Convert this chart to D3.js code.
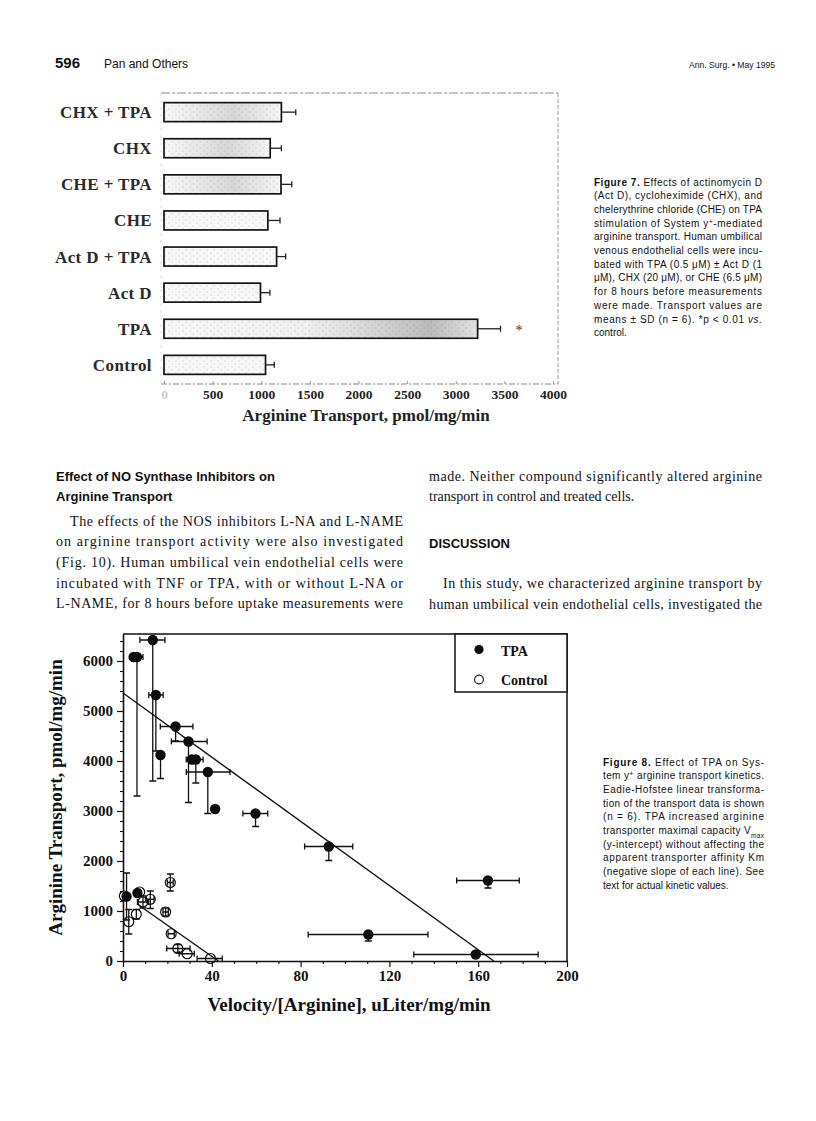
<!DOCTYPE html>
<html lang="en">
<head>
<meta charset="utf-8">
<title>Pan and Others - Ann. Surg. May 1995 - p. 596</title>
<script src="https://d3js.org/d3.v7.min.js"></script>
<style>
  body { margin: 0; background: #fff; }
  svg { display: block; }
</style>
</head>
<body>
<svg id="page" width="816" height="1121"></svg>
<script>

// ---- Figure 7 data (bars, pmol/mg/min) ----
var barCats  = ["CHX + TPA", "CHX", "CHE + TPA", "CHE", "Act D + TPA", "Act D", "TPA", "Control"];
var barMeans = [1207, 1092, 1203, 1068, 1158, 992, 3225, 1044];
var barUpper = [1355, 1207, 1314, 1193, 1251, 1089, 3460, 1134];   // mean + SD
var barTicks = [0, 500, 1000, 1500, 2000, 2500, 3000, 3500, 4000];
var starValue = 3650;

// ---- Figure 8 data (Eadie-Hofstee) ----
var tpaX   = [6.3, 4.8, 13.4, 14.8, 16.9, 23.7, 29.5, 31.0, 32.8, 38.2, 41.5, 59.7, 92.7, 110.5, 158.9, 164.4, 1.6, 6.5];
var tpaY   = [6080, 6080, 6420, 5320, 4120, 4690, 4390, 4030, 4030, 3780, 3040, 2950, 2290, 530, 130, 1610, 1290, 1360];
var tpaXLo = [4.0, 4.8, 7.6, 11.6, 16.9, 16.8, 21.8, 31.0, 28.5, 28.5, 41.5, 54.0, 81.8, 83.4, 131.0, 150.3, 1.6, 5.5];
var tpaXHi = [9.0, 4.8, 18.9, 18.1, 16.9, 31.5, 37.9, 31.0, 36.1, 48.2, 41.5, 65.2, 103.5, 137.4, 187.0, 178.5, 1.6, 8.0];
var tpaYLo = [3300, 6080, 3600, 4200, 3650, 4400, 3170, 4030, 3560, 2950, 3040, 2690, 2010, 400, 130, 1460, 820, 1360];
var tpaYHi = [6080, 6080, 6420, 5320, 4120, 4690, 4390, 4030, 4030, 3780, 3040, 2950, 2290, 530, 130, 1610, 1760, 1360];

var ctlX   = [0.6, 2.6, 6.0, 7.5, 9.0, 12.3, 19.2, 21.3, 21.7, 24.7, 28.9, 39.4];
var ctlY   = [1300, 785, 935, 1380, 1180, 1235, 980, 1570, 545, 250, 145, 50];
var ctlXLo = [0.6, 2.6, 6.0, 7.5, 6.5, 10.5, 18.0, 20.0, 20.3, 19.7, 25.3, 33.4];
var ctlXHi = [0.6, 2.6, 6.0, 7.5, 11.5, 14.0, 20.4, 22.6, 23.1, 30.2, 32.1, 44.7];
var ctlYLo = [1300, 540, 840, 1380, 1060, 1050, 900, 1400, 545, 170, 145, 50];
var ctlYHi = [1300, 1030, 1030, 1380, 1300, 1400, 1060, 1740, 545, 330, 145, 50];

// fitted lines, end points
var tpaFitX = [0, 167],  tpaFitY = [5360, 0];
var ctlFitX = [7, 43],   ctlFitY = [1120, 0];

var xTicks8 = [0, 40, 80, 120, 160, 200];
var yTicks8 = [0, 1000, 2000, 3000, 4000, 5000, 6000];

var SERIF = '"Liberation Serif", "Times New Roman", serif';
var SANS  = '"Liberation Sans", Arial, Helvetica, sans-serif';
var plain = d3.format("d");

var svg = d3.select("#page");
svg.append("rect").attr("width", 816).attr("height", 1121).attr("fill", "#fff");

// ---------- small text helpers ----------
// **bold**, _italic_, ^sup^, ~sub~
function richText(sel, str) {
    var parts = str.split(/(\*\*[^*]+\*\*|_[^_]+_|\^[^^]+\^|~[^~]+~)/);
    parts.forEach(function(s) {
        if (!s) return;
        var t = sel.append("tspan");
        if (s.indexOf("**") == 0) t.attr("font-weight", "bold").text(s.slice(2, -2));
        else if (s[0] == "_") t.attr("font-style", "italic").text(s.slice(1, -1));
        else if (s[0] == "^") t.attr("baseline-shift", "super").attr("font-size", "70%").text(s.slice(1, -1));
        else if (s[0] == "~") t.attr("baseline-shift", "sub").attr("font-size", "65%").text(s.slice(1, -1));
        else t.text(s);
    });
}

// lines of a justified block; opt: x, y, pitch, width, indent, font, size, free (indices not justified)
function textBlock(lines, opt) {
    var g = svg.append("g")
        .attr("font-family", opt.font)
        .attr("font-size", opt.size)
        .attr("font-weight", opt.weight || "normal")
        .attr("fill", "#111");
    lines.forEach(function(str, i) {
        var ind = (i == 0 && opt.indent) ? opt.indent : 0;
        var t = g.append("text").attr("x", opt.x + ind).attr("y", opt.y + i * opt.pitch);
        richText(t, str);
        var free = opt.free || [];
        var natural = t.node().getComputedTextLength();
        var target = opt.width - ind;
        if (free.indexOf(i) < 0 || natural > target) {
            t.attr("textLength", target)
             .attr("lengthAdjust", natural > target ? "spacingAndGlyphs" : "spacing");
        }
    });
    return g;
}

// ---------- page header ----------
svg.append("text").attr("x", 55).attr("y", 68)
    .attr("font-family", SANS).attr("font-weight", "bold").attr("font-size", 15)
    .attr("fill", "#111").text("596");
svg.append("text").attr("x", 104).attr("y", 68)
    .attr("font-family", SANS).attr("font-size", 12).attr("fill", "#111").text("Pan and Others");
svg.append("text").attr("x", 775).attr("y", 68).attr("text-anchor", "end")
    .attr("font-family", SANS).attr("font-size", 9.5).attr("fill", "#111")
    .attr("textLength", 86).attr("lengthAdjust", "spacingAndGlyphs")
    .text("Ann. Surg. \u2022 May 1995");

// ---------- Figure 7: horizontal bars ----------
var defs = svg.append("defs");
var speck = defs.append("pattern").attr("id", "speck")
    .attr("patternUnits", "userSpaceOnUse").attr("width", 7).attr("height", 6);
speck.append("rect").attr("width", 7).attr("height", 6).attr("fill", "#f8f8f8");
speck.append("circle").attr("cx", 1).attr("cy", 1).attr("r", 0.55).attr("fill", "#b4b4b4");
speck.append("circle").attr("cx", 4.5).attr("cy", 4).attr("r", 0.5).attr("fill", "#c6c6c6");
speck.append("path").attr("d", "M2.5,4.5 l1.2,-1.2").attr("stroke", "#cfcfcf").attr("stroke-width", 0.5);

var shade = defs.append("linearGradient").attr("id", "tpaShade");
shade.append("stop").attr("offset", "0").attr("stop-color", "#777").attr("stop-opacity", 0);
shade.append("stop").attr("offset", "0.45").attr("stop-color", "#777").attr("stop-opacity", 0.06);
shade.append("stop").attr("offset", "0.85").attr("stop-color", "#666").attr("stop-opacity", 0.42);
shade.append("stop").attr("offset", "1").attr("stop-color", "#777").attr("stop-opacity", 0.18);

var midShade = defs.append("linearGradient").attr("id", "midShade");
midShade.append("stop").attr("offset", "0").attr("stop-color", "#777").attr("stop-opacity", 0);
midShade.append("stop").attr("offset", "0.6").attr("stop-color", "#777").attr("stop-opacity", 0.25);
midShade.append("stop").attr("offset", "0.9").attr("stop-color", "#777").attr("stop-opacity", 0.08);
midShade.append("stop").attr("offset", "1").attr("stop-color", "#777").attr("stop-opacity", 0);

var xB = d3.scaleLinear().domain([0, 4000]).range([164, 553]);
var yB = d3.scaleBand().domain(barCats).range([93, 384]).paddingInner(0.474).paddingOuter(0.267);

var f7 = svg.append("g");

// scanned frame: grey broken lines
var frame7 = f7.append("g").attr("fill", "none").attr("stroke", "#8a8a8a");
frame7.append("line").attr("x1", 161).attr("x2", 558).attr("y1", 93).attr("y2", 93)
    .attr("stroke-dasharray", "9,2,3,2").attr("stroke-width", 1.1);
frame7.append("line").attr("x1", 558).attr("x2", 558).attr("y1", 93).attr("y2", 384)
    .attr("stroke-dasharray", "4,2").attr("stroke-width", 0.9);
frame7.append("line").attr("x1", 161).attr("x2", 558).attr("y1", 384).attr("y2", 384)
    .attr("stroke-dasharray", "6,2,2,2").attr("stroke-width", 1.1);
frame7.append("line").attr("x1", 161).attr("x2", 161).attr("y1", 93).attr("y2", 384)
    .attr("stroke", "#d6d6d6").attr("stroke-dasharray", "3,4").attr("stroke-width", 0.8);

var barIdx = d3.range(barCats.length);

f7.selectAll("rect.bar").data(barIdx).enter().append("rect")
    .attr("class", "bar")
    .attr("x", xB(0))
    .attr("y", function(i) { return yB(barCats[i]); })
    .attr("width", function(i) { return xB(barMeans[i]) - xB(0); })
    .attr("height", yB.bandwidth())
    .attr("fill", "url(#speck)");

// darker speckle seen in the scan (TPA right half, the first three bars in the middle)
f7.selectAll("rect.shade").data(barIdx.filter(function(i) { return i < 3 || barCats[i] == "TPA"; }))
    .enter().append("rect")
    .attr("class", "shade")
    .attr("x", xB(0))
    .attr("y", function(i) { return yB(barCats[i]) + 1; })
    .attr("width", function(i) { return xB(barMeans[i]) - xB(0); })
    .attr("height", yB.bandwidth() - 2)
    .attr("fill", function(i) { return barCats[i] == "TPA" ? "url(#tpaShade)" : "url(#midShade)"; });

f7.selectAll("rect.outline").data(barIdx).enter().append("rect")
    .attr("class", "outline")
    .attr("x", xB(0))
    .attr("y", function(i) { return yB(barCats[i]); })
    .attr("width", function(i) { return xB(barMeans[i]) - xB(0); })
    .attr("height", yB.bandwidth())
    .attr("fill", "none").attr("stroke", "#141414").attr("stroke-width", 1.7);

// error bars
var err7 = f7.append("g").attr("stroke", "#222").attr("stroke-width", 1.3);
err7.selectAll("line.e").data(barIdx).enter().append("line")
    .attr("x1", function(i) { return xB(barMeans[i]); })
    .attr("x2", function(i) { return xB(barUpper[i]); })
    .attr("y1", function(i) { return yB(barCats[i]) + yB.bandwidth() / 2; })
    .attr("y2", function(i) { return yB(barCats[i]) + yB.bandwidth() / 2; });
err7.selectAll("line.c").data(barIdx).enter().append("line")
    .attr("x1", function(i) { return xB(barUpper[i]); })
    .attr("x2", function(i) { return xB(barUpper[i]); })
    .attr("y1", function(i) { return yB(barCats[i]) + yB.bandwidth() / 2 - 3; })
    .attr("y2", function(i) { return yB(barCats[i]) + yB.bandwidth() / 2 + 3; });

f7.append("text")
    .attr("x", xB(starValue)).attr("y", yB("TPA") + yB.bandwidth() / 2 + 6)
    .attr("text-anchor", "middle").attr("font-family", SERIF).attr("font-size", 14)
    .attr("fill", "#333").text("*");

// category labels
f7.selectAll("text.cat").data(barCats).enter().append("text")
    .attr("class", "cat")
    .attr("x", 152)
    .attr("y", function(d) { return yB(d) + yB.bandwidth() / 2 + 6; })
    .attr("text-anchor", "end")
    .attr("font-family", SERIF).attr("font-weight", "bold").attr("font-size", 17)
    .attr("letter-spacing", 0.4)
    .attr("fill", "#2a2a2a")
    .text(function(d) { return d; });

// bottom axis
var ax7 = f7.append("g").attr("transform", "translate(0,384)")
    .call(d3.axisBottom(xB).tickValues(barTicks).tickFormat(plain)
        .tickSizeInner(-3).tickSizeOuter(0).tickPadding(5));
ax7.select(".domain").remove();
ax7.selectAll(".tick line").attr("stroke", "#999");
ax7.selectAll(".tick text")
    .attr("font-family", SERIF).attr("font-weight", "bold").attr("font-size", 13.5)
    .attr("fill", function(d) { return d == 0 ? "#d0d0d0" : "#222"; });

f7.append("text").attr("x", 366).attr("y", 421).attr("text-anchor", "middle")
    .attr("font-family", SERIF).attr("font-weight", "bold").attr("font-size", 17)
    .attr("fill", "#222").text("Arginine Transport, pmol/mg/min");

// Figure 7 caption
textBlock([
    "**Figure 7.** Effects of actinomycin D",
    "(Act D), cycloheximide (CHX), and",
    "chelerythrine chloride (CHE) on TPA",
    "stimulation of System y^+^-mediated",
    "arginine transport. Human umbilical",
    "venous endothelial cells were incu-",
    "bated with TPA (0.5 \u03bcM) \u00b1 Act D (1",
    "\u03bcM), CHX (20 \u03bcM), or CHE (6.5 \u03bcM)",
    "for 8 hours before measurements",
    "were made. Transport values are",
    "means \u00b1 SD (n = 6). *p < 0.01 _vs._",
    "control."
], {x: 594, y: 185.5, pitch: 13.7, width: 168, font: SANS, size: 10, free: [11]});

// ---------- body text ----------
textBlock([
    "Effect of NO Synthase Inhibitors on",
    "Arginine Transport"
], {x: 56, y: 481, pitch: 20, width: 252, font: SANS, size: 13, weight: "bold", free: [0, 1]});

textBlock([
    "The effects of the NOS inhibitors L-NA and L-NAME",
    "on arginine transport activity were also investigated",
    "(Fig. 10). Human umbilical vein endothelial cells were",
    "incubated with TNF or TPA, with or without L-NA or",
    "L-NAME, for 8 hours before uptake measurements were"
], {x: 56, y: 525.5, pitch: 20.7, width: 347, indent: 14, font: SERIF, size: 14});

textBlock([
    "made. Neither compound significantly altered arginine",
    "transport in control and treated cells."
], {x: 429, y: 481, pitch: 20, width: 333, font: SERIF, size: 14, free: [1]});

textBlock(["DISCUSSION"], {x: 429, y: 548, pitch: 20, width: 94, font: SANS, size: 13, weight: "bold", free: [0]});

textBlock([
    "In this study, we characterized arginine transport by",
    "human umbilical vein endothelial cells, investigated the"
], {x: 429, y: 588, pitch: 20.7, width: 333, indent: 14, font: SERIF, size: 14});

// ---------- Figure 8: Eadie-Hofstee plot ----------
var x8 = d3.scaleLinear().domain([0, 200]).range([123, 567]);
var y8 = d3.scaleLinear().domain([0, 6540]).range([961, 634]);

var f8 = svg.append("g");

// frame top and right
f8.append("path")
    .attr("d", "M" + x8(0) + "," + y8(6540) + "H" + x8(200) + "V" + y8(0))
    .attr("fill", "none").attr("stroke", "#111").attr("stroke-width", 1.5);

function styleAxis(a) {
    a.select(".domain").attr("stroke", "#111").attr("stroke-width", 1.6);
    a.selectAll(".tick line").attr("stroke", "#111").attr("stroke-width", 1.2);
    a.selectAll(".tick text")
        .attr("font-family", SERIF).attr("font-weight", "bold").attr("font-size", 15).attr("fill", "#111");
}

var xAx = f8.append("g").attr("transform", "translate(0," + y8(0) + ")")
    .call(d3.axisBottom(x8).tickValues(xTicks8).tickFormat(plain)
        .tickSize(6).tickSizeOuter(0).tickPadding(3));
styleAxis(xAx);
var xMin = f8.append("g").attr("transform", "translate(0," + y8(0) + ")")
    .call(d3.axisBottom(x8).tickValues(d3.range(0, 201, 10).filter(function(v) { return v % 40; }))
        .tickSize(3).tickFormat(""));
xMin.select(".domain").remove();
xMin.selectAll(".tick line").attr("stroke", "#111").attr("stroke-width", 1.1);

var yAx = f8.append("g").attr("transform", "translate(" + x8(0) + ",0)")
    .call(d3.axisLeft(y8).tickValues(yTicks8).tickFormat(plain)
        .tickSize(6).tickSizeOuter(0).tickPadding(4));
styleAxis(yAx);
var yMin = f8.append("g").attr("transform", "translate(" + x8(0) + ",0)")
    .call(d3.axisLeft(y8).tickValues(d3.range(0, 6541, 200).filter(function(v) { return v % 1000; }))
        .tickSize(3).tickFormat(""));
yMin.select(".domain").remove();
yMin.selectAll(".tick line").attr("stroke", "#111").attr("stroke-width", 1.1);

// axis titles
f8.append("text")
    .attr("transform", "translate(62," + ((y8(0) + y8(6540)) / 2) + ") rotate(-90)")
    .attr("text-anchor", "middle")
    .attr("font-family", SERIF).attr("font-weight", "bold").attr("font-size", 19).attr("fill", "#111")
    .text("Arginine Transport, pmol/mg/min");
f8.append("text").attr("x", 349).attr("y", 1011).attr("text-anchor", "middle")
    .attr("font-family", SERIF).attr("font-weight", "bold").attr("font-size", 19).attr("fill", "#111")
    .text("Velocity/[Arginine], uLiter/mg/min");

// regression lines
var fit = d3.line().x(function(d) { return x8(d[0]); }).y(function(d) { return y8(d[1]); });
f8.append("path").datum(d3.zip(tpaFitX, tpaFitY)).attr("d", fit)
    .attr("fill", "none").attr("stroke", "#111").attr("stroke-width", 1.4);
f8.append("path").datum(d3.zip(ctlFitX, ctlFitY)).attr("d", fit)
    .attr("fill", "none").attr("stroke", "#111").attr("stroke-width", 1.4);

// error bars for a series
function errorBars(xs, ys, xlo, xhi, ylo, yhi) {
    var g = f8.append("g").attr("stroke", "#111").attr("stroke-width", 1.3).attr("fill", "none");
    var idx = d3.range(xs.length);
    var hx = idx.filter(function(i) { return xlo[i] < xs[i] || xhi[i] > xs[i]; });
    var vy = idx.filter(function(i) { return ylo[i] < ys[i] || yhi[i] > ys[i]; });
    g.selectAll("path.h").data(hx).enter().append("path").attr("class", "h")
        .attr("d", function(i) {
            var a = x8(xlo[i]), b = x8(xhi[i]), y = y8(ys[i]);
            return "M" + a + "," + y + "H" + b +
                   "M" + a + "," + (y - 3) + "V" + (y + 3) +
                   "M" + b + "," + (y - 3) + "V" + (y + 3);
        });
    g.selectAll("path.v").data(vy).enter().append("path").attr("class", "v")
        .attr("d", function(i) {
            var x = x8(xs[i]), a = y8(ylo[i]), b = y8(yhi[i]);
            var p = "M" + x + "," + a + "V" + b;
            if (ylo[i] < ys[i]) p += "M" + (x - 3.5) + "," + a + "H" + (x + 3.5);
            if (yhi[i] > ys[i]) p += "M" + (x - 3.5) + "," + b + "H" + (x + 3.5);
            return p;
        });
}
errorBars(ctlX, ctlY, ctlXLo, ctlXHi, ctlYLo, ctlYHi);
errorBars(tpaX, tpaY, tpaXLo, tpaXHi, tpaYLo, tpaYHi);

f8.append("g").selectAll("circle").data(d3.range(ctlX.length)).enter().append("circle")
    .attr("cx", function(i) { return x8(ctlX[i]); })
    .attr("cy", function(i) { return y8(ctlY[i]); })
    .attr("r", 5)
    .attr("fill", "none").attr("stroke", "#111").attr("stroke-width", 1.2);

f8.append("g").selectAll("circle").data(d3.range(tpaX.length)).enter().append("circle")
    .attr("cx", function(i) { return x8(tpaX[i]); })
    .attr("cy", function(i) { return y8(tpaY[i]); })
    .attr("r", 5.2)
    .attr("fill", "#0d0d0d");

// legend
var leg = f8.append("g");
leg.append("rect").attr("x", 455).attr("y", 634).attr("width", 112).attr("height", 58)
    .attr("fill", "#fff").attr("stroke", "#111").attr("stroke-width", 1.5);
leg.append("circle").attr("cx", 479).attr("cy", 649.5).attr("r", 4.6).attr("fill", "#0d0d0d");
leg.append("circle").attr("cx", 479).attr("cy", 679.5).attr("r", 4.4)
    .attr("fill", "none").attr("stroke", "#111").attr("stroke-width", 1.1);
leg.append("text").attr("x", 501).attr("y", 655.5)
    .attr("font-family", SERIF).attr("font-weight", "bold").attr("font-size", 14).attr("fill", "#111")
    .text("TPA");
leg.append("text").attr("x", 501).attr("y", 685)
    .attr("font-family", SERIF).attr("font-weight", "bold").attr("font-size", 14).attr("fill", "#111")
    .text("Control");

// Figure 8 caption
textBlock([
    "**Figure 8.** Effect of TPA on Sys-",
    "tem y^+^ arginine transport kinetics.",
    "Eadie-Hofstee linear transforma-",
    "tion of the transport data is shown",
    "(n = 6). TPA increased arginine",
    "transporter maximal capacity V~max~",
    "(y-intercept) without affecting the",
    "apparent transporter affinity Km",
    "(negative slope of each line). See",
    "text for actual kinetic values."
], {x: 603, y: 765.5, pitch: 13.7, width: 161, font: SANS, size: 10, free: [9]});

</script>
</body>
</html>
